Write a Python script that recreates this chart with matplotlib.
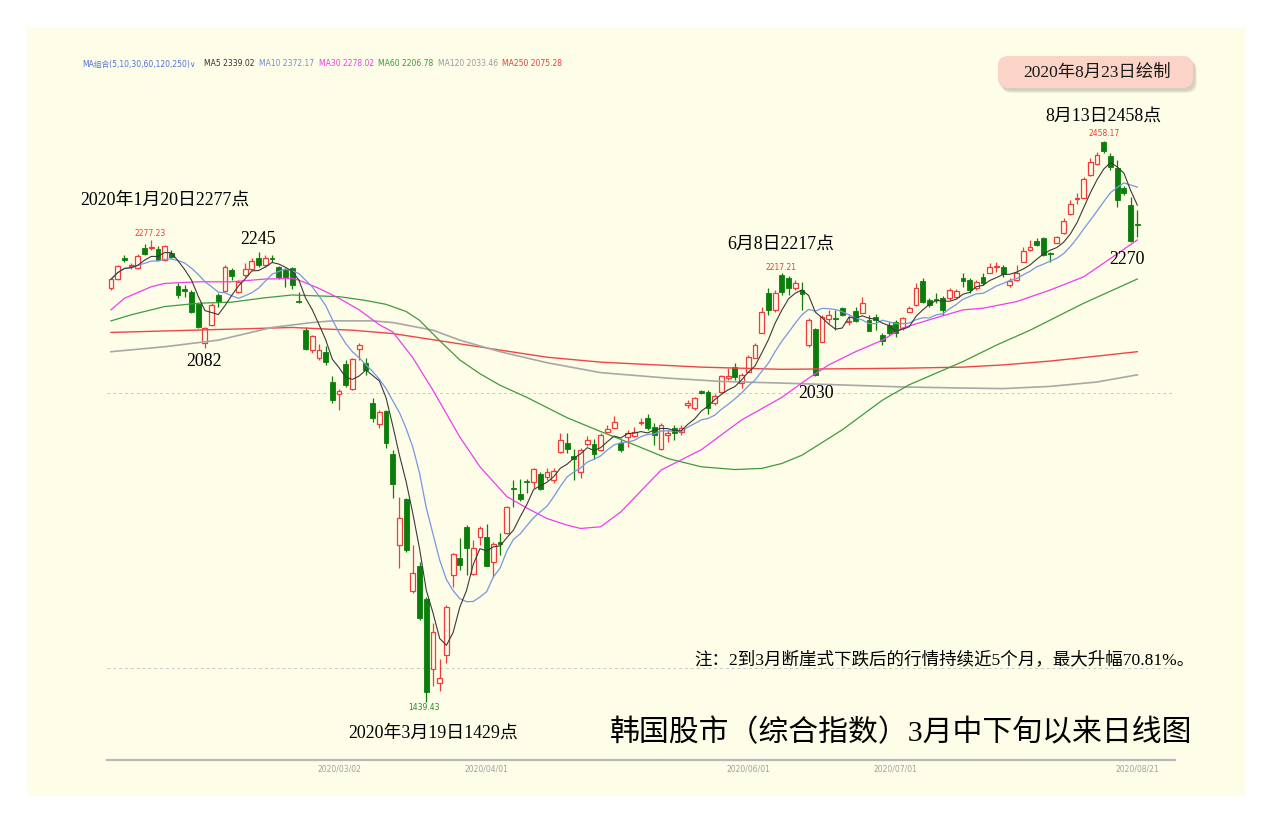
import numpy as np
import pandas as pd
import matplotlib
matplotlib.use('Agg')
import matplotlib.pyplot as plt
from matplotlib.patches import FancyBboxPatch, Rectangle
from matplotlib.transforms import IdentityTransform

# ---------------- data (KOSPI daily, 2020-01-10 .. 2020-08-21) ----------------
opens = [2190.0, 2206.5, 2245.7, 2230.0, 2226.5, 2263.9, 2263.0, 2261.0, 2241.5, 2254.8,
         2194.3, 2188.9, 2183.0, 2161.0, 2090.3, 2123.5, 2178.0, 2185.2, 2223.4, 2184.0,
         2214.3, 2224.6, 2245.7, 2232.4, 2245.0, 2228.0, 2223.4, 2226.5, 2167.6, 2114.4,
         2078.0, 2064.0, 2074.0, 2020.5, 1997.6, 2052.1, 2006.7, 2079.4, 2053.9, 1981.8,
         1943.7, 1966.8, 1888.7, 1724.0, 1807.0, 1640.4, 1685.8, 1625.9, 1498.8, 1473.9,
         1524.2, 1669.5, 1700.7, 1757.2, 1671.3, 1739.0, 1737.9, 1693.6, 1730.0, 1746.0,
         1827.5, 1816.0, 1840.0, 1838.9, 1852.9, 1847.0, 1842.0, 1893.4, 1908.6, 1885.6,
         1857.1, 1906.8, 1906.8, 1896.5, 1929.7, 1937.0, 1908.6, 1920.8, 1922.7, 1945.5,
         1954.0, 1938.8, 1897.8, 1923.7, 1937.0, 1929.7, 1978.2, 1972.2, 2003.6, 2002.4,
         1981.3, 2002.4, 2026.7, 2047.8, 2017.6, 2038.7, 2063.0, 2109.5, 2182.2, 2150.7,
         2214.0, 2208.3, 2190.1, 2187.0, 2087.2, 2115.7, 2093.2, 2133.8, 2136.2, 2153.8,
         2128.4, 2149.5, 2145.8, 2132.6, 2138.6, 2105.3, 2123.5, 2129.5, 2117.5, 2147.6,
         2159.8, 2204.0, 2168.9, 2170.7, 2172.0, 2172.0, 2174.9, 2209.4, 2205.2, 2190.1,
         2211.2, 2218.5, 2228.3, 2229.4, 2196.1, 2205.2, 2238.4, 2259.7, 2276.6, 2281.0,
         2254.2, 2273.0, 2290.0, 2325.1, 2352.5, 2354.7, 2395.9, 2415.9, 2456.4, 2430.4,
         2408.1, 2371.8, 2341.4, 2306.9]
highs = [2209.0, 2232.0, 2250.6, 2237.0, 2252.0, 2270.0, 2277.2, 2267.0, 2268.8, 2259.7,
         2199.0, 2196.0, 2187.0, 2163.0, 2120.4, 2163.0, 2181.0, 2232.5, 2227.0, 2205.0,
         2235.5, 2245.0, 2255.5, 2250.6, 2250.6, 2230.6, 2227.0, 2229.4, 2184.0, 2119.3,
         2105.0, 2088.4, 2086.0, 2030.9, 2006.7, 2059.9, 2063.6, 2090.3, 2063.0, 1990.4,
         1969.1, 1969.1, 1896.5, 1810.6, 1809.3, 1724.0, 1693.6, 1629.5, 1582.0, 1516.9,
         1615.0, 1709.0, 1736.1, 1760.0, 1733.0, 1758.5, 1762.0, 1729.4, 1746.0, 1794.0,
         1842.0, 1843.0, 1843.0, 1863.2, 1856.5, 1864.4, 1863.2, 1926.8, 1926.8, 1897.8,
         1900.0, 1922.0, 1916.0, 1927.4, 1942.0, 1958.2, 1914.6, 1932.8, 1938.8, 1954.0,
         1961.9, 1945.0, 1945.5, 1932.8, 1941.9, 1941.9, 1987.3, 1992.7, 2005.4, 2005.4,
         1998.2, 2032.7, 2044.9, 2053.9, 2036.3, 2069.0, 2091.3, 2156.7, 2190.1, 2187.0,
         2217.2, 2212.0, 2205.2, 2202.1, 2136.2, 2117.5, 2141.7, 2150.7, 2150.7, 2156.7,
         2141.7, 2156.7, 2174.9, 2141.7, 2143.5, 2109.0, 2129.5, 2132.6, 2138.0, 2158.0,
         2199.2, 2208.3, 2172.5, 2181.0, 2176.0, 2190.7, 2188.9, 2217.4, 2208.8, 2205.2,
         2217.4, 2236.7, 2238.5, 2232.5, 2208.3, 2232.5, 2265.7, 2277.9, 2281.5, 2283.9,
         2256.0, 2285.1, 2317.8, 2350.5, 2362.7, 2392.9, 2426.7, 2437.7, 2458.2, 2435.9,
         2423.2, 2376.0, 2356.5, 2332.4]
lows = [2187.0, 2205.0, 2238.4, 2225.0, 2225.0, 2250.6, 2259.7, 2239.7, 2240.0, 2245.0,
        2172.0, 2175.0, 2145.0, 2118.0, 2082.5, 2121.7, 2156.7, 2183.4, 2205.0, 2181.0,
        2211.0, 2223.4, 2229.4, 2229.4, 2238.4, 2207.0, 2193.0, 2188.9, 2163.4, 2079.0,
        2072.0, 2060.0, 2050.8, 1981.3, 1969.0, 2011.4, 2005.4, 2059.9, 2032.7, 1947.9,
        1935.9, 1899.6, 1808.8, 1681.6, 1711.0, 1636.0, 1587.7, 1439.4, 1467.9, 1459.0,
        1509.0, 1648.2, 1678.5, 1669.5, 1669.5, 1724.0, 1686.0, 1666.4, 1705.8, 1744.0,
        1792.4, 1804.4, 1818.0, 1827.0, 1824.0, 1842.0, 1837.1, 1890.5, 1890.5, 1842.0,
        1845.0, 1903.8, 1879.6, 1894.7, 1927.4, 1936.4, 1892.9, 1902.5, 1920.0, 1941.9,
        1932.8, 1905.6, 1896.5, 1911.6, 1914.6, 1923.7, 1972.2, 1969.1, 1998.2, 1961.9,
        1978.2, 2001.8, 2023.6, 2023.6, 2008.5, 2038.1, 2063.0, 2108.3, 2141.7, 2147.0,
        2178.0, 2178.0, 2187.0, 2150.7, 2083.5, 2030.5, 2092.6, 2126.6, 2114.4, 2139.8,
        2123.5, 2128.9, 2145.3, 2112.6, 2114.4, 2087.2, 2105.3, 2102.2, 2114.4, 2147.0,
        2158.0, 2163.4, 2156.2, 2164.0, 2141.7, 2168.9, 2172.5, 2193.0, 2181.0, 2187.0,
        2196.1, 2217.4, 2220.3, 2211.2, 2192.5, 2204.0, 2237.9, 2257.9, 2267.0, 2248.8,
        2238.4, 2272.4, 2288.8, 2323.2, 2343.2, 2353.6, 2394.0, 2414.0, 2435.9, 2405.0,
        2338.4, 2359.6, 2274.8, 2283.9]
closes = [2206.5, 2230.6, 2241.5, 2232.0, 2249.3, 2252.4, 2265.0, 2241.5, 2267.5, 2247.5,
          2178.0, 2185.2, 2147.6, 2120.4, 2117.5, 2159.8, 2167.0, 2229.4, 2213.0, 2202.0,
          2224.6, 2240.3, 2232.4, 2244.6, 2243.3, 2210.7, 2211.0, 2196.0, 2165.3, 2080.0,
          2104.0, 2078.0, 2056.8, 1987.3, 2004.2, 2014.5, 2061.2, 2087.2, 2041.8, 1955.5,
          1964.6, 1908.6, 1834.2, 1772.4, 1714.9, 1673.7, 1590.8, 1457.5, 1566.5, 1482.4,
          1611.4, 1707.0, 1688.4, 1717.8, 1718.0, 1755.4, 1686.4, 1725.8, 1725.8, 1792.4,
          1824.8, 1807.0, 1838.4, 1861.4, 1825.7, 1857.1, 1858.4, 1914.6, 1898.3, 1879.6,
          1896.5, 1914.6, 1889.2, 1923.7, 1934.0, 1947.9, 1896.5, 1928.2, 1929.7, 1947.3,
          1935.9, 1923.7, 1941.9, 1927.9, 1927.9, 1935.9, 1982.4, 1990.4, 1999.5, 1972.2,
          1995.1, 2030.9, 2030.9, 2028.5, 2032.7, 2065.9, 2087.2, 2147.6, 2150.7, 2182.2,
          2184.0, 2190.1, 2199.2, 2179.8, 2132.6, 2032.7, 2138.6, 2141.7, 2134.9, 2141.7,
          2130.2, 2131.3, 2162.9, 2113.1, 2132.6, 2095.0, 2108.4, 2108.4, 2135.7, 2153.8,
          2190.1, 2165.8, 2159.8, 2169.4, 2150.7, 2187.0, 2185.2, 2204.0, 2187.0, 2202.1,
          2199.2, 2229.4, 2230.1, 2216.1, 2203.4, 2218.5, 2258.4, 2265.7, 2268.8, 2250.6,
          2253.0, 2282.8, 2312.9, 2343.2, 2354.1, 2388.1, 2420.0, 2432.2, 2440.0, 2411.0,
          2350.5, 2362.7, 2276.0, 2305.7]

tick_pos = [34, 56, 95, 117, 153]
tick_labels = ['2020/03/02', '2020/04/01', '2020/06/01', '2020/07/01', '2020/08/21']

# long moving averages (candle index, value)
ma30_idx = [0, 2, 6, 8, 13, 18, 23, 27, 28, 31, 34, 37, 40, 42, 45, 48, 52, 55, 59, 62, 65,
            68, 70, 73, 76, 82, 88, 94, 100, 104, 107, 111, 115, 118, 122, 127, 130, 135,
            140, 145, 148, 153]
ma30_val = [2151, 2172, 2193, 2199, 2202, 2202, 2207, 2208, 2205, 2190, 2172, 2151, 2124,
            2111, 2064, 2005, 1920, 1866, 1812, 1791, 1772, 1760, 1754, 1757, 1784, 1860,
            1897, 1951, 1992, 2027, 2051, 2075, 2096, 2118, 2133, 2151, 2154, 2166, 2187,
            2211, 2236, 2278]
ma60_idx = [0, 3, 8, 13, 18, 23, 27, 34, 38, 41, 44, 46, 49, 52, 55, 58, 62, 68, 73, 78, 83,
            88, 93, 97, 100, 103, 109, 115, 119, 127, 132, 137, 145, 153]
ma60_val = [2131, 2142, 2157, 2163, 2165, 2173, 2178, 2175, 2168, 2161, 2148, 2132, 2095,
            2060, 2035, 2014, 1992, 1955, 1930, 1906, 1881, 1866, 1861, 1863, 1872, 1887,
            1933, 1987, 2015, 2057, 2087, 2114, 2163, 2207]
ma120_idx = [0, 8, 16, 24, 30, 33, 39, 42, 48, 52, 58, 65, 73, 83, 91, 100, 108, 118, 127,
             133, 140, 147, 153]
ma120_val = [2075, 2084, 2096, 2119, 2128, 2131, 2131, 2128, 2114, 2096, 2075, 2055, 2037,
             2027, 2021, 2018, 2015, 2011, 2009, 2008, 2012, 2020, 2033]
ma250_idx = [0, 27, 36, 42, 50, 58, 65, 73, 88, 100, 118, 127, 133, 140, 147, 153]
ma250_val = [2110, 2119, 2114, 2108, 2093, 2078, 2065, 2056, 2047, 2043, 2045, 2047, 2051,
             2058, 2067, 2075]

legend_items = [('MA组合(5,10,30,60,120,250)\u2228', '#4f73d9', 82),
                ('MA5 2339.02', '#333333', 204),
                ('MA10 2372.17', '#6f8fd8', 259),
                ('MA30 2278.02', '#ee3cee', 319),
                ('MA60 2206.78', '#3a993a', 378),
                ('MA120 2033.46', '#9a9a9a', 438),
                ('MA250 2075.28', '#ee3b3b', 502)]

# ---------------- figure ----------------
W, H = 1273, 836
BG = '#fdfde8'
fig = plt.figure(figsize=(W / 100, H / 100), dpi=100, facecolor='white')
fig.patches.append(Rectangle((27, H - 796), 1219, 769, transform=IdentityTransform(),
                             facecolor=BG, edgecolor='none', zorder=-5))

def fx(x):
    return x / W

def fy(y):
    return 1 - y / H

ax = fig.add_axes([fx(107), fy(760), fx(1175) - fx(107), fy(100) - fy(760)])
ax.set_zorder(1)
ax.set_facecolor('none')
ax.set_xlim((107 - 111) / 6.708, (1175 - 111) / 6.708)
ax.set_ylim(2000 - (760 - 393) * 1.8162, 2000 + (393 - 100) * 1.8162)
for s in ['top', 'right', 'left']:
    ax.spines[s].set_visible(False)
ax.spines['bottom'].set_color('#b8b8b8')
ax.spines['bottom'].set_linewidth(1.6)
ax.set_yticks([])
ax.set_xticks(tick_pos)
ax.set_xticklabels(tick_labels, fontsize=5.5, color='#a0a0a0')
ax.tick_params(axis='x', length=0, pad=3)

for lvl in (1500, 2000):
    ax.axhline(lvl, color='#c8c8c8', lw=0.7, ls=(0, (3, 3)), zorder=1)

# candles
o = np.array(opens); h = np.array(highs); l = np.array(lows); c = np.array(closes)
idx = np.arange(len(c))
up = c >= o
RED = '#f03c3c'
GREEN = '#0b7d0b'
top = np.maximum(o, c); bot = np.minimum(o, c)
cols = np.where(up, RED, GREEN)
ax.vlines(idx, top, h, colors=cols, lw=0.9, zorder=2)
ax.vlines(idx, l, bot, colors=cols, lw=0.9, zorder=2)
hgt = np.maximum(top - bot, 0.8)
ax.bar(idx[up], hgt[up], bottom=bot[up], width=0.72, facecolor=BG, edgecolor=RED,
       linewidth=0.9, zorder=2.5)
ax.bar(idx[~up], hgt[~up], bottom=bot[~up], width=0.72, facecolor=GREEN, edgecolor=GREEN,
       linewidth=0.6, zorder=2.5)

# moving averages
cs = pd.Series(closes)
ma5 = cs.rolling(5, min_periods=1).mean()
ma10 = cs.rolling(10, min_periods=1).mean()
ax.plot(ma250_idx, ma250_val, color='#f04545', lw=1.0, zorder=3)
ax.plot(ma120_idx, ma120_val, color='#a8a8a8', lw=1.2, zorder=3)
ax.plot(ma60_idx, ma60_val, color='#3f9b3f', lw=0.9, zorder=3)
ax.plot(ma30_idx, ma30_val, color='#f03cf0', lw=0.9, zorder=3)
ax.plot(idx, ma10, color='#7896e0', lw=0.9, zorder=3)
ax.plot(idx, ma5, color='#3a3a3a', lw=0.8, zorder=3)

# ---------------- texts ----------------
SER = ['Liberation Serif', 'Noto Sans CJK SC']
SANS = ['DejaVu Sans', 'Noto Sans CJK SC']

def t(x, y, s, **kw):
    fig.text(fx(x), fy(y), s, **kw)

for s, col, x in legend_items:
    t(x, 64, s, fontsize=5.5, color=col, family=SANS, ha='left', va='center')

# date box with soft shadow
for k, a in enumerate([0.10, 0.12, 0.16]):
    off = 4 - k
    fig.patches.append(FancyBboxPatch((998 + off, H - 88 - off - 1), 195, 32,
                                      boxstyle='round,pad=0,rounding_size=10',
                                      transform=IdentityTransform(), facecolor='#8a7a70',
                                      edgecolor='none', alpha=a, zorder=1))
fig.patches.append(FancyBboxPatch((998, H - 88), 195, 32,
                                  boxstyle='round,pad=0,rounding_size=10',
                                  transform=IdentityTransform(), facecolor='#fbd3c7',
                                  edgecolor='none', zorder=2))
t(1097, 73, '2020年8月23日绘制', fontsize=12.5, family=SER, ha='center', va='center',
  color='#1a1a1a', zorder=3)

ann = 12.9
t(1103, 116, '8月13日2458点', fontsize=ann, family=SER, ha='center', va='center')
t(1104, 134, '2458.17', fontsize=5.5, family=SANS, color=RED, ha='center', va='center')
t(165, 200, '2020年1月20日2277点', fontsize=ann, family=SER, ha='center', va='center')
t(150, 234, '2277.23', fontsize=5.5, family=SANS, color=RED, ha='center', va='center')
t(258, 239, '2245', fontsize=ann, family=SER, ha='center', va='center')
t(204, 361, '2082', fontsize=ann, family=SER, ha='center', va='center')
t(781, 244, '6月8日2217点', fontsize=ann, family=SER, ha='center', va='center')
t(781, 267, '2217.21', fontsize=5.5, family=SANS, color=RED, ha='center', va='center')
t(816, 393, '2030', fontsize=ann, family=SER, ha='center', va='center')
t(1127, 260, '2270', fontsize=ann, family=SER, ha='center', va='center')
t(424, 707, '1439.43', fontsize=5.5, family=SANS, color='#2a8a2a', ha='center', va='center')
t(433, 733, '2020年3月19日1429点', fontsize=ann, family=SER, ha='center', va='center')
t(944, 660, '注：2到3月断崖式下跌后的行情持续近5个月，最大升幅70.81%。', fontsize=12.6,
  family=SER, ha='center', va='center')
t(901, 733, '韩国股市（综合指数）3月中下旬以来日线图', fontsize=21.5, family=SER,
  ha='center', va='center')

fig.savefig('out.png', dpi=100, facecolor='white')
